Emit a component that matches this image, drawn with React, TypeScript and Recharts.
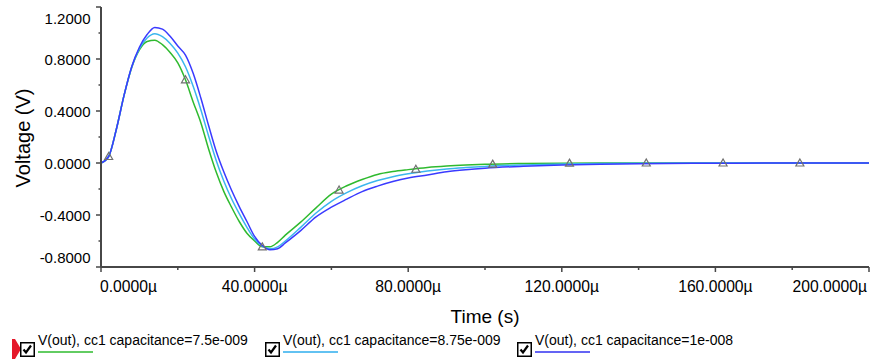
import React from 'react';
import { LineChart, Line, XAxis, YAxis } from 'recharts';

// Transient response of V(out) for three values of cc1 capacitance
const timeUs = [
  0, 2, 4, 6, 8, 10, 12, 14, 16, 18,
  20, 22, 24, 26, 28, 30, 32, 34, 36, 38,
  40, 42, 44, 46, 48, 52, 56, 60, 64, 68,
  72, 76, 80, 85, 90, 95, 100, 110, 120, 130,
  140, 160, 180, 200,
];

const vOutC75 = [
  0, 0.05, 0.26, 0.52, 0.735, 0.87, 0.935, 0.945, 0.91, 0.85,
  0.77, 0.64, 0.47, 0.31, 0.11, -0.07, -0.22, -0.34, -0.45, -0.54,
  -0.6, -0.645, -0.645, -0.61, -0.555, -0.455, -0.345, -0.24, -0.175, -0.127,
  -0.088, -0.066, -0.051, -0.035, -0.024, -0.016, -0.01, -0.004, -0.001, 0,
  0, 0, 0, 0,
];

const vOutC875 = [
  0, 0.05, 0.26, 0.52, 0.738, 0.88, 0.962, 0.995, 0.972, 0.92,
  0.845, 0.74, 0.59, 0.41, 0.21, 0.02, -0.14, -0.275, -0.39, -0.495,
  -0.585, -0.64, -0.66, -0.645, -0.6, -0.495, -0.385, -0.295, -0.228, -0.175,
  -0.135, -0.105, -0.083, -0.062, -0.046, -0.035, -0.026, -0.015, -0.008, -0.004,
  -0.002, 0, 0, 0,
];

const vOutC10 = [
  0, 0.05, 0.26, 0.52, 0.74, 0.89, 0.988, 1.043, 1.03, 0.975,
  0.9, 0.83, 0.69, 0.5, 0.29, 0.09, -0.07, -0.21, -0.335, -0.45,
  -0.565, -0.635, -0.668, -0.66, -0.615, -0.52, -0.415, -0.34, -0.278, -0.22,
  -0.178, -0.143, -0.115, -0.092, -0.068, -0.052, -0.04, -0.025, -0.015, -0.009,
  -0.005, -0.002, 0, 0,
];

// Trace markers placed along the first trace
const markerTimeUs = [2, 22, 42, 62, 82, 102, 122, 142, 162, 182];
const markerVolts = [0.05, 0.64, -0.645, -0.208, -0.048, -0.009, -0.001, 0, 0, 0];

const xTicks = [0, 20, 40, 60, 80, 100, 120, 140, 160, 180, 200];
const yTicks = [-0.8, -0.6, -0.4, -0.2, 0, 0.2, 0.4, 0.6, 0.8, 1.0, 1.2];

const seriesNames = [
  'V(out), cc1 capacitance=7.5e-009',
  'V(out), cc1 capacitance=8.75e-009',
  'V(out), cc1 capacitance=1e-008',
];
const seriesColors = ['#2fba2f', '#3bb6ee', '#3a3aff'];
const legendUnderline = ['#62cc62', '#62c2f2', '#6464f4'];

const rows = timeUs.map((t, i) => ({
  t,
  a: vOutC75[i],
  b: vOutC875[i],
  c: vOutC10[i],
}));
const markerRows = markerTimeUs.map((t, i) => ({ t, m: markerVolts[i] }));

const FONT = '"Liberation Sans", Arial, sans-serif';
const AXIS_COLOR = '#474747';

function XTick(props: any) {
  const { x, y, payload } = props;
  const v = payload.value as number;
  const major = v % 40 === 0;
  let anchor: 'start' | 'middle' | 'end' = 'middle';
  let tx = x;
  if (v === 0) {
    anchor = 'start';
    tx = x - 1;
  } else if (v === 200) {
    anchor = 'end';
    tx = x - 2;
  }
  return (
    <g>
      <line x1={x} x2={x} y1={y} y2={y + (major ? 5 : 3)} stroke={AXIS_COLOR} strokeWidth={1.5} />
      {major && (
        <text x={tx} y={y + 25} textAnchor={anchor} fontSize={15.7} fontFamily={FONT} fill="#000">
          {v.toFixed(4) + 'µ'}
        </text>
      )}
    </g>
  );
}

function YTick(props: any) {
  const { x, y, payload } = props;
  const v = payload.value as number;
  const major = Math.round(v * 10) % 4 === 0;
  let by = y + 6.3;
  if (Math.abs(v - 1.2) < 1e-6) by = y + 16.5;
  if (Math.abs(v + 0.8) < 1e-6) by = y - 4.5;
  return (
    <g>
      <line x1={x} x2={x - (major ? 5 : 2.5)} y1={y} y2={y} stroke={AXIS_COLOR} strokeWidth={1.5} />
      {major && (
        <text x={x - 10.5} y={by} textAnchor="end" fontSize={15} fontFamily={FONT} fill="#000">
          {v.toFixed(4)}
        </text>
      )}
    </g>
  );
}

function TriangleMarker(props: any) {
  const { cx, cy } = props;
  if (cx == null || cy == null) return null;
  return (
    <path
      d={`M${cx},${cy - 4} L${cx + 4},${cy + 3} L${cx - 4},${cy + 3} Z`}
      fill="none"
      stroke="#707070"
      strokeWidth={1.2}
    />
  );
}

function CheckBox({ x, y }: { x: number; y: number }) {
  return (
    <g>
      <rect x={x + 0.75} y={y + 0.75} width={13.5} height={13.5} fill="#fff" stroke="#000" strokeWidth={1.5} />
      <path
        d={`M${x + 3.5},${y + 7.5} L${x + 6},${y + 10.5} L${x + 11},${y + 3.5}`}
        fill="none"
        stroke="#000"
        strokeWidth={2.2}
      />
    </g>
  );
}

const legendBoxX = [20, 265, 517];

export default function App() {
  return (
    <div style={{ position: 'absolute', left: 0, top: 0, width: 870, height: 363, background: '#fff' }}>
      <LineChart
        width={870}
        height={363}
        data={rows}
        margin={{ top: 7, right: 1, bottom: 66, left: 0 }}
      >
        <XAxis
          dataKey="t"
          type="number"
          domain={[0, 200]}
          ticks={xTicks}
          interval={0}
          height={30}
          tickSize={0}
          tickMargin={0}
          tickLine={false}
          axisLine={{ stroke: AXIS_COLOR, strokeWidth: 2 }}
          tick={<XTick />}
          allowDataOverflow
        />
        <YAxis
          type="number"
          domain={[-0.8, 1.2]}
          ticks={yTicks}
          interval={0}
          width={101}
          tickSize={0}
          tickMargin={0}
          tickLine={false}
          axisLine={{ stroke: AXIS_COLOR, strokeWidth: 2 }}
          tick={<YTick />}
          allowDataOverflow
        />
        <Line dataKey="a" type="monotone" stroke={seriesColors[0]} strokeWidth={1.5} dot={false} isAnimationActive={false} />
        <Line dataKey="b" type="monotone" stroke={seriesColors[1]} strokeWidth={1.5} dot={false} isAnimationActive={false} />
        <Line dataKey="c" type="monotone" stroke={seriesColors[2]} strokeWidth={1.5} dot={false} isAnimationActive={false} />
        <Line
          data={markerRows}
          dataKey="m"
          stroke="none"
          dot={<TriangleMarker />}
          activeDot={false}
          isAnimationActive={false}
        />
      </LineChart>
      <svg
        width={870}
        height={363}
        style={{ position: 'absolute', left: 0, top: 0, pointerEvents: 'none' }}
      >
        <text
          x={0}
          y={0}
          transform="translate(29.5,138) rotate(-90)"
          textAnchor="middle"
          fontSize={20}
          fontFamily={FONT}
          fill="#000"
        >
          Voltage (V)
        </text>
        <text x={485} y={323} textAnchor="middle" fontSize={19} fontFamily={FONT} fill="#000">
          Time (s)
        </text>
        <path d="M12,339 L15,339 L21,349 L15,359 L12,359 Z" fill="#e5182a" />
        {seriesNames.map((name, i) => (
          <g key={name}>
            <CheckBox x={legendBoxX[i]} y={342} />
            <text x={legendBoxX[i] + 18} y={345} fontSize={14} fontFamily={FONT} fill="#000">
              {name}
            </text>
            <line
              x1={legendBoxX[i] + 18}
              x2={legendBoxX[i] + 73}
              y1={352}
              y2={352}
              stroke={legendUnderline[i]}
              strokeWidth={2}
            />
          </g>
        ))}
      </svg>
    </div>
  );
}
